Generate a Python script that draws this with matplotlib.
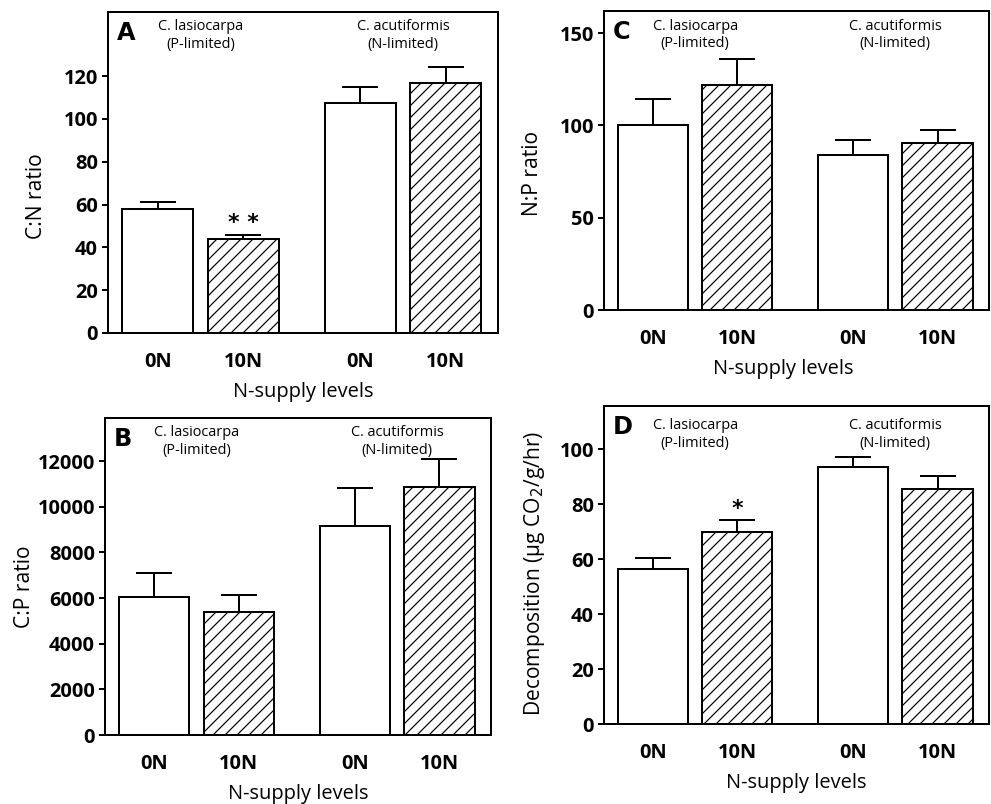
import matplotlib
matplotlib.use("Agg")
import matplotlib.pyplot as plt

plt.rcParams['font.family'] = ['Open Sans', 'DejaVu Sans']
plt.rcParams['hatch.linewidth'] = 1.2

# bar order: C. lasiocarpa 0N, 10N, C. acutiformis 0N, 10N
positions = [0, 1, 2.37, 3.37]
tick_labels = ['0N', '10N', '0N', '10N']
group_centers = [0.5, 2.87]

cn_mean = [58.1, 44.0, 107.6, 117.0]
cn_err = [3.3, 1.9, 7.5, 7.4]

cp_mean = [6040, 5400, 9150, 10870]
cp_err = [1080, 730, 1690, 1240]

np_mean = [100.0, 122.0, 83.7, 90.2]
np_err = [14.4, 14.1, 8.3, 7.2]

dec_mean = [56.4, 70.1, 93.5, 85.5]
dec_err = [4.0, 4.2, 3.9, 4.8]

hatches = ['', '//', '', '//']

# dpi 72 so that points == pixels and the hatch spacing matches
fig = plt.figure(figsize=(991 / 72, 804 / 72), dpi=72)


def panel(rect, mean, err, ylim, yticks, ylabel, ylabel_pos, letter,
          text_offs, star=None, xlabel_x=0.5):
    ax = fig.add_axes(rect)
    for x, m, e, h in zip(positions, mean, err, hatches):
        ax.bar(x, m, width=0.83, color='white', edgecolor='black',
               linewidth=2, hatch=h, zorder=2)
        ax.errorbar(x, m, yerr=[[0], [e]], fmt='none', ecolor='black',
                    elinewidth=2, capsize=18, capthick=2, zorder=1)
    ax.set_xlim(-0.58, 3.98)
    ax.set_ylim(*ylim)
    ax.set_yticks(yticks)
    ax.set_xticks(positions)
    ax.set_xticklabels(tick_labels)
    for s in ax.spines.values():
        s.set_linewidth(2)
    ax.tick_params(axis='y', direction='out', length=6, width=2, pad=4,
                   labelsize=20)
    ax.tick_params(axis='x', length=0, pad=19, labelsize=20)
    for lab in ax.get_xticklabels() + ax.get_yticklabels():
        lab.set_fontweight('bold')
    ax.set_ylabel(ylabel, fontsize=21)
    ax.yaxis.set_label_coords(*ylabel_pos)
    ax.set_xlabel('N-supply levels', fontsize=20, labelpad=10)
    ax.xaxis.label.set_x(xlabel_x)

    ax.annotate(letter, xy=(0, 1), xycoords='axes fraction',
                xytext=(9, -21), textcoords='offset points',
                ha='left', va='center', fontsize=24, fontweight='heavy',
                family=['DejaVu Sans'])
    d1, d2 = text_offs
    for gx, name, lim in zip(group_centers,
                             ['C. lasiocarpa', 'C. acutiformis'],
                             ['(P-limited)', '(N-limited)']):
        ax.annotate(name, xy=(gx, 1), xycoords=('data', 'axes fraction'),
                    xytext=(0, -d1), textcoords='offset points',
                    ha='center', va='center', fontsize=14.5)
        ax.annotate(lim, xy=(gx, 1), xycoords=('data', 'axes fraction'),
                    xytext=(0, -d2), textcoords='offset points',
                    ha='center', va='center', fontsize=14.5)
    if star is not None:
        sx, sy, stxt = star
        ax.text(sx, sy, stxt, ha='center', va='center', fontsize=22,
                fontweight='bold', family=['DejaVu Sans'])
    return ax


panel([0.109, 0.586, 0.3935, 0.399], cn_mean, cn_err, (0, 150),
      range(0, 121, 20), 'C:N ratio', (-0.157, 0.427), 'A', (14, 32),
      star=(1, 51.5, '* *'))

panel([0.6095, 0.6144, 0.3885, 0.372], np_mean, np_err, (0, 162),
      [0, 50, 100, 150], 'N:P ratio', (-0.159, 0.457), 'C', (16, 33),
      xlabel_x=0.465)

panel([0.106, 0.0858, 0.3895, 0.394], cp_mean, cp_err, (0, 13880),
      range(0, 12001, 2000), 'C:P ratio', (-0.182, 0.467), 'B', (14, 32))

panel([0.6095, 0.0995, 0.3885, 0.3955], dec_mean, dec_err, (0, 115.8),
      range(0, 101, 20), 'Decomposition (µg CO$_2$/g/hr)', (-0.149, 0.472),
      'D', (19, 37), star=(1, 78.3, '*'))

fig.savefig('out.png', dpi=72)
